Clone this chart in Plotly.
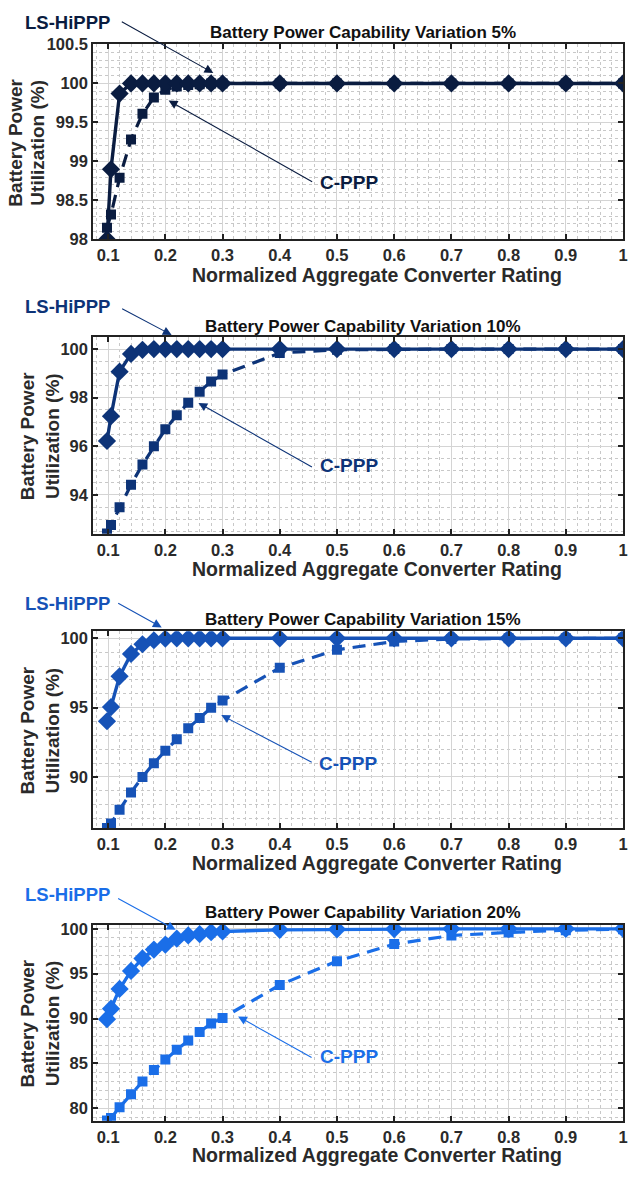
import plotly.graph_objects as go

W, H = 633, 1180

x_vals = [0.098, 0.105, 0.12, 0.14, 0.16, 0.18, 0.2, 0.22, 0.24, 0.26, 0.28, 0.3,
          0.4, 0.5, 0.6, 0.7, 0.8, 0.9, 1.0]

ls_5 = [98.0, 98.9, 99.87, 100, 100, 100, 100, 100, 100, 100, 100, 100, 100, 100, 100, 100, 100, 100, 100]
cp_5 = [98.15, 98.32, 98.79, 99.28, 99.61, 99.82, 99.92, 99.96, 99.98, 99.99, 100, 100, 100, 100, 100, 100, 100, 100, 100]

ls_10 = [96.22, 97.24, 99.07, 99.8, 99.97, 100, 100, 100, 100, 100, 100, 100, 100, 100, 100, 100, 100, 100, 100]
cp_10 = [92.42, 92.76, 93.49, 94.42, 95.25, 96.0, 96.7, 97.28, 97.79, 98.25, 98.67, 98.95, 99.84, 99.97, 100, 100, 100, 100, 100]

ls_15 = [94.02, 95.04, 97.26, 98.87, 99.57, 99.86, 99.98, 100, 100, 100, 100, 100, 100, 100, 100, 100, 100, 100, 100]
cp_15 = [86.33, 86.64, 87.64, 88.89, 90.0, 90.99, 91.89, 92.72, 93.52, 94.26, 94.99, 95.51, 97.87, 99.17, 99.77, 99.95, 100, 100, 100]

ls_20 = [89.93, 91.1, 93.3, 95.31, 96.7, 97.69, 98.24, 98.9, 99.27, 99.41, 99.63, 99.71, 99.89, 99.95, 99.98, 100, 100, 100, 100]
cp_20 = [78.64, 78.9, 80.1, 81.57, 82.97, 84.25, 85.42, 86.52, 87.55, 88.5, 89.45, 90.07, 93.74, 96.4, 98.3, 99.26, 99.6, 99.85, 99.95]

titles = ["Battery Power Capability Variation 5%", "Battery Power Capability Variation 10%",
          "Battery Power Capability Variation 15%", "Battery Power Capability Variation 20%"]
x_tickvals = [0.1, 0.2, 0.3, 0.4, 0.5, 0.6, 0.7, 0.8, 0.9, 1.0]
x_ticktext = ["0.1", "0.2", "0.3", "0.4", "0.5", "0.6", "0.7", "0.8", "0.9", "1"]
y_ticks = [
    [98, 98.5, 99, 99.5, 100, 100.5],
    [94, 96, 98, 100],
    [90, 95, 100],
    [80, 85, 90, 95, 100],
]
y_ranges = [[98, 100.5], [92.4, 100.5], [86.3, 100.5], [78.6, 100.45]]
y_minor = [0.1, 0.5, 1, 1]
colors = ["#0a1c40", "#0d3377", "#1652b6", "#1a6ee8"]
ls_data = [ls_5, ls_10, ls_15, ls_20]
cp_data = [cp_5, cp_10, cp_15, cp_20]

# pixel layout (top, bottom) of each plot area
plot_left, plot_right = 94, 628
plot_tb = [(36, 234), (333, 533), (632, 832), (930, 1129)]
title_y = [24, 322, 620, 917]
xtitle_y = [270, 569, 867, 1164]
ytitle_x = [(16, 38), (28, 53), (28, 53), (28, 53)]
ls_text = [(68, 14), (68, 302), (68, 604), (68, 899)]
ls_arrow = [((215, 65), (122, 13)), ((173, 331), (122, 304)), ((163, 628), (118, 603)), ((177, 935), (118, 903))]
cp_text = [(352, 176), (352, 464), (351, 766), (352, 1064)]
cp_arrow = [((170, 93), (315, 175)), ((200, 400), (315, 465)), ((223, 717), (315, 765)), ((240, 1023), (315, 1065))]

FONT = "Liberation Sans"

def px(xp):
    return xp / W

def py(yp):
    return 1 - yp / H

fig = go.Figure()
annotations = []
for i in range(4):
    xa = "x" if i == 0 else f"x{i+1}"
    ya = "y" if i == 0 else f"y{i+1}"
    c = colors[i]
    fig.add_trace(go.Scatter(x=x_vals, y=cp_data[i], xaxis=xa, yaxis=ya, mode="lines+markers",
                             line=dict(color=c, width=3.2, dash="13px,8px"),
                             marker=dict(symbol="square", size=10, color=c),
                             showlegend=False))
    fig.add_trace(go.Scatter(x=x_vals, y=ls_data[i], xaxis=xa, yaxis=ya, mode="lines+markers",
                             line=dict(color=c, width=3.4),
                             marker=dict(symbol="diamond", size=14, color=c),
                             showlegend=False))
    top, bot = plot_tb[i]
    axis_common = dict(showline=True, linecolor="#222", linewidth=2, mirror="ticks",
                       ticks="inside", ticklen=5, tickcolor="#222", tickwidth=1.5,
                       showgrid=True, gridcolor="#d4d4d4", gridwidth=1, zeroline=False,
                       ticklabeloverflow="allow",
                       tickfont=dict(family=FONT, size=16.5, color="#2a2a2a", weight="bold"))
    xkey = "xaxis" if i == 0 else f"xaxis{i+1}"
    ykey = "yaxis" if i == 0 else f"yaxis{i+1}"
    fig.update_layout(**{
        xkey: dict(domain=[px(plot_left), px(plot_right)], range=[0.074, 1.0], anchor=ya,
                   tickvals=x_tickvals, ticktext=x_ticktext,
                   minor=dict(dtick=0.02, tick0=0, showgrid=True, gridcolor="#c8c8c8",
                              griddash="dot", gridwidth=1, ticks=""),
                   **axis_common),
        ykey: dict(domain=[py(bot), py(top)], range=y_ranges[i], anchor=xa,
                   tickvals=y_ticks[i], ticktext=[f"{v:g}" for v in y_ticks[i]],
                   minor=dict(dtick=y_minor[i], tick0=0, showgrid=True, gridcolor="#c8c8c8",
                              griddash="dot", gridwidth=1, ticks=""),
                   **axis_common),
    })
    annotations.append(dict(text=f"<b>{titles[i]}</b>", x=px(366), y=py(title_y[i]), xref="paper", yref="paper",
                            showarrow=False, xanchor="center", yanchor="middle",
                            font=dict(family=FONT, size=17, color="#111")))
    annotations.append(dict(text="<b>Normalized Aggregate Converter Rating</b>", x=px(380), y=py(xtitle_y[i]),
                            xref="paper", yref="paper", showarrow=False, xanchor="center", yanchor="middle",
                            font=dict(family=FONT, size=19.5, color="#2a2a2a")))
    for txt, xx in zip(["<b>Battery Power</b>", "<b>Utilization (%)</b>"], ytitle_x[i]):
        annotations.append(dict(text=txt, x=px(xx), y=py((top + bot) / 2 + 1),
                                xref="paper", yref="paper", showarrow=False, xanchor="center", yanchor="middle",
                                textangle=-90, font=dict(family=FONT, size=19, color="#2a2a2a")))
    annotations.append(dict(text="<b>LS-HiPPP</b>", x=px(ls_text[i][0]), y=py(ls_text[i][1]), xref="paper", yref="paper",
                            showarrow=False, xanchor="center", yanchor="middle",
                            font=dict(family=FONT, size=18.5, color=c)))
    annotations.append(dict(text="<b>C-PPP</b>", x=px(cp_text[i][0]), y=py(cp_text[i][1]), xref="paper", yref="paper",
                            showarrow=False, xanchor="center", yanchor="middle",
                            font=dict(family=FONT, size=19, color=c)))
    for (hx, hy), (tx, ty) in (ls_arrow[i], cp_arrow[i]):
        annotations.append(dict(text="", x=px(hx), y=py(hy), xref="paper", yref="paper",
                                ax=tx - hx, ay=ty - hy, axref="pixel", ayref="pixel",
                                showarrow=True, arrowhead=2, arrowsize=1.6, arrowwidth=1.1,
                                arrowcolor=c, standoff=0))

fig.update_layout(width=W, height=H, margin=dict(l=0, r=0, t=0, b=0),
                  paper_bgcolor="white", plot_bgcolor="white", annotations=annotations)

fig.write_html("out.html", config={"displayModeBar": False},
               post_script="document.body.style.margin='0';document.body.style.overflow='hidden';")
